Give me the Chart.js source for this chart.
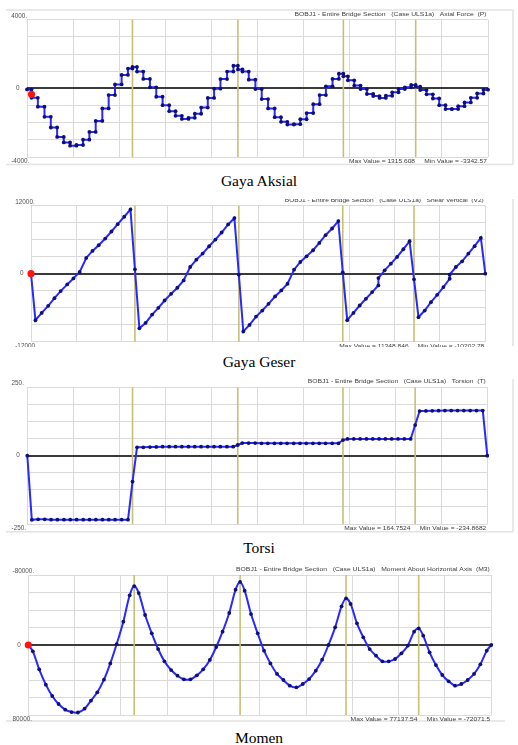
<!DOCTYPE html>
<html><head><meta charset="utf-8">
<script src="https://cdn.jsdelivr.net/npm/chart.js@4.4.1/dist/chart.umd.min.js"></script>
<style>
html,body{margin:0;padding:0;background:#fff;}
body{width:518px;height:745px;position:relative;overflow:hidden;}
.panel{position:absolute;left:0;width:518px;overflow:hidden;}
.panel canvas{position:absolute;left:0;}
.cap{position:absolute;left:0;width:518px;text-align:center;font-family:"Liberation Serif","Times New Roman",serif;font-size:15.5px;line-height:18px;color:#000;}
</style></head><body>
<div class="panel" style="top:0;height:170px"><canvas id="c1" width="518" height="170" style="top:0"></canvas></div>
<div class="cap" style="top:172px">Gaya Aksial</div>
<div class="panel" style="top:198.5px;height:148px"><canvas id="c2" width="518" height="170" style="top:-13.5px"></canvas></div>
<div class="cap" style="top:352.5px">Gaya Geser</div>
<div class="panel" style="top:379px;height:154px"><canvas id="c3" width="518" height="170" style="top:-9px"></canvas></div>
<div class="cap" style="top:539px">Torsi</div>
<div class="panel" style="top:556px;height:170px"><canvas id="c4" width="518" height="170" style="top:0"></canvas></div>
<div class="cap" style="top:728.5px">Momen</div>
<script>
// ---------- DATA ----------
const stations = [0, 1.5, 3.6, 5.8, 7.9, 10.0, 12.2, 14.3, 16.4, 18.6, 20.7, 22.8, 25.0, 27.1, 29.2, 31.4, 33.5, 35,
  36.5, 38.6, 40.8, 42.9, 45.0, 47.2, 49.3, 51.4, 53.6, 55.7, 57.8, 60.0, 62.1, 64.2, 66.4, 68.5, 70,
  71.5, 73.6, 75.8, 77.9, 80.0, 82.2, 84.3, 86.4, 88.6, 90.7, 92.8, 95.0, 97.1, 99.2, 101.4, 103.5, 105,
  106.5, 108.6, 110.7, 112.8, 114.9, 117.0, 119.1, 121.2, 123.3, 125.4, 127.5, 129,
  130.5, 132.6, 134.7, 136.8, 138.9, 141.0, 143.1, 145.2, 147.3, 149.4, 151.5, 153];
const bridgeLength = 153;
const piers = [35, 70, 105, 129];

const axialElements = [
  -60, -550, -1070, -1660, -2280, -2830, -3150, -3342.57, -3300, -2990, -2540, -1900, -1170, -390, 230, 780, 1150,
  1250, 980, 550, 60, -490, -980, -1330, -1600, -1780, -1720, -1480, -1120, -560, -20, 540, 980, 1315.608,
  1100, 975, 507, -40, -624, -1170, -1680, -1950, -2110, -2090, -1800, -1440, -920, -390, 120, 550, 850,
  700, 470, 160, -40, -330, -450, -560, -430, -230, -40, 60, 200,
  100, -100, -350, -590, -980, -1210, -1210, -1040, -820, -550, -300, -80];
const axialMarker = [1.5, -350];

const shearNodes = [
  0, -8215, -6915, -5674, -4314, -3073, -1891, -827, 296, 2778, 4019, 5024, 6206, 7447, 8747, 10047, 11348.846, 768,
  -9633, -8688, -7210, -6028, -4728, -3546, -2482, -1182, 1182, 2482, 3546, 4846, 6028, 7269, 8688, 9811, -177,
  -10202.78, -9042, -7565, -6501, -5319, -4019, -2955, -1773, 709, 2069, 3073, 4137, 5437, 6797, 7979, 9279, 240,
  -8200, -6915, -5615, -4430, -3250, -2070, 590, 1770, 2955, 4315, 5730, -1000,
  -7680, -6500, -5020, -3720, -2360, -890, 1180, 2190, 3550, 4850, 6320, 0];
const shearJumps = [[117.0, -770], [141.0, -180]];
const shearMarker = [0, 0];

const torsionNodes = [
  0, -234.8682, -233, -233, -234, -234, -234, -234, -234, -234, -234, -234, -234, -234, -234, -234, -234, -95,
  30.5, 30.5, 31.5, 32, 33, 33, 33, 33, 33, 33, 33, 33, 33, 33, 33, 33, 39,
  46, 46, 46, 45, 45, 45, 45, 45, 45, 45, 45, 45, 45, 45, 45, 45, 57,
  61, 61, 61, 61, 61, 61, 61, 61, 61, 61, 61, 112,
  163.2, 163.5, 164, 164.4, 164.7524, 164.7, 164.7, 164.7, 164.7, 164.7, 164.7, 0];

const momentNodes = [
  0, 7240, 27800, 45300, 58300, 67400, 73900, 76600, 77137.54, 72800, 63600, 54100, 39600, 21000, -1100, -26700, -56800, -67400,
  -59400, -34300, -13300, 4600, 18700, 28600, 35100, 39200, 39200, 34700, 27800, 17100, 2300, -15200, -36600, -63200, -72071.5,
  -62100, -35400, -13300, 6500, 21000, 33100, 40000, 46500, 48400, 44600, 38900, 29300, 16800, 0, -20200, -44200, -53300,
  -46900, -24800, -8800, 4600, 12200, 18700, 18700, 16000, 9500, 760, -15200, -19000,
  -10700, 8400, 22900, 34300, 41500, 46500, 44600, 40000, 33100, 22100, 6500, 0];
const momentMarker = [0, 0];

const axialTickValues = [4000, 0, -4000];
const axialTickLabels = ['4000.', '0', '-4000.'];
const shearTickValues = [12000, 0, -12000];
const shearTickLabels = ['12000.', '0', '-12000'];
const torsionTickValues = [250, 0, -250];
const torsionTickLabels = ['250.', '0', '-250.'];
const momentTickValues = [-80000, 0, 80000];
const momentTickLabels = ['-80000.', '0', '80000.'];

const titles = [
  'BOBJ1 - Entire Bridge Section   (Case ULS1a)   Axial Force  (P)',
  'BOBJ1 - Entire Bridge Section   (Case ULS1a)   Shear Vertical  (V2)',
  'BOBJ1 - Entire Bridge Section   (Case ULS1a)   Torsion  (T)',
  'BOBJ1 - Entire Bridge Section   (Case ULS1a)   Moment About Horizontal Axis  (M3)'];
const extremes = [
  'Max Value = 1315.608     Min Value = -3342.57',
  'Max Value = 11348.846     Min Value = -10202.78',
  'Max Value = 164.7524     Min Value = -234.8682',
  'Max Value = 77137.54     Min Value = -72071.5'];

// ---------- BUILD SERIES ----------
const axialPts = [];
axialElements.forEach((v, i) => { axialPts.push({x: stations[i], y: v}, {x: stations[i + 1], y: v}); });
const shearPts = [];
stations.forEach((s, i) => {
  shearPts.push({x: s, y: shearNodes[i]});
  shearJumps.filter(j => j[0] === s).forEach(j => shearPts.push({x: s, y: j[1]}));
});
const torsionPts = stations.map((s, i) => ({x: s, y: torsionNodes[i]}));
const momentPts = stations.map((s, i) => ({x: s, y: momentNodes[i]}));

// ---------- DRAW HELPERS ----------
function fitText(ctx, text, right, cy, width, size, color) {
  ctx.save();
  ctx.font = size + 'px "Liberation Sans", Arial, sans-serif';
  const w = ctx.measureText(text).width;
  ctx.translate(right, cy);
  ctx.scale(width / w, 1);
  ctx.textAlign = 'right';
  ctx.textBaseline = 'middle';
  ctx.fillStyle = color;
  ctx.fillText(text, 0, 0);
  ctx.restore();
}

const deco = {
  id: 'deco',
  beforeDraw(chart) {
    const o = chart.options.plugins.deco, ctx = chart.ctx;
    ctx.save();
    ctx.strokeStyle = '#e2e2e2';
    ctx.lineWidth = 1.5;
    (o.frame || []).forEach(f => {
      ctx.beginPath();
      ctx.moveTo(f[0], f[1] - o.top);
      ctx.lineTo(f[2], f[3] - o.top);
      ctx.stroke();
    });
    ctx.restore();
  },
  beforeDatasetsDraw(chart) {
    const ctx = chart.ctx, a = chart.chartArea, xs = chart.scales.x;
    ctx.save();
    ctx.strokeStyle = 'rgb(198,192,118)';
    ctx.lineWidth = 1.6;
    piers.forEach(p => {
      const px = xs.getPixelForValue(p);
      ctx.beginPath(); ctx.moveTo(px, a.top); ctx.lineTo(px, a.bottom); ctx.stroke();
    });
    ctx.restore();
  },
  afterDraw(chart) {
    const o = chart.options.plugins.deco, ctx = chart.ctx, a = chart.chartArea, ys = chart.scales.y;
    ctx.save();
    ctx.font = '6.4px "Liberation Sans", Arial, sans-serif';
    ctx.fillStyle = '#505050';
    ctx.textBaseline = 'middle';
    ctx.textAlign = 'left';
    o.tickValues.forEach((v, i) => {
      let py = ys.getPixelForValue(v);
      let px = a.left - 15.8;
      if (Math.abs(py - a.top) < 1) py -= 3.6;
      else if (Math.abs(py - a.bottom) < 1) py += 4.2;
      else px = a.left - 11;
      ctx.fillText(o.tickLabels[i], px, py);
    });
    ctx.restore();
    fitText(ctx, o.title, a.right - 1.5, a.top - 5.5, o.titleW, 6, '#3c3c3c');
    fitText(ctx, o.extreme, a.right - 1, a.bottom + 4.3, o.extremeW, 6, '#3c3c3c');
  }
};

function build(id, p) {
  const datasets = [{
    data: p.points, borderColor: 'rgb(40,40,255)', borderWidth: 2,
    pointRadius: 1.9, pointHoverRadius: 1.9, pointBackgroundColor: 'rgb(15,15,120)', pointBorderWidth: 0,
    tension: p.tension || 0, clip: false, order: 2
  }];
  if (p.marker) datasets.push({
    data: [{x: p.marker[0], y: p.marker[1]}], showLine: false,
    pointRadius: 3.6, pointBackgroundColor: 'rgb(255,20,20)', pointBorderWidth: 0, clip: false, order: 1
  });
  return new Chart(document.getElementById(id), {
    type: 'line',
    data: {datasets},
    options: {
      responsive: false, animation: false, devicePixelRatio: 1,
      layout: {autoPadding: false, padding: {left: p.area[0], right: 518 - p.area[1], top: p.area[2] - p.top, bottom: 170 - (p.area[3] - p.top)}},
      plugins: {
        legend: {display: false}, tooltip: {enabled: false},
        deco: {top: p.top, frame: p.frame, tickValues: p.tickValues, tickLabels: p.tickLabels,
               title: p.title, titleW: p.titleW, extreme: p.extreme, extremeW: p.extremeW}
      },
      scales: {
        x: {
          type: 'linear', min: 0, max: bridgeLength,
          ticks: {display: false},
          afterBuildTicks: s => { const t = []; for (let i = 0; i <= 10; i++) t.push({value: bridgeLength * i / 10}); s.ticks = t; },
          grid: {color: '#dadada', lineWidth: 1, drawTicks: false},
          border: {display: false}
        },
        y: {
          type: 'linear', min: p.min, max: p.max, reverse: !!p.reverse,
          ticks: {display: false, stepSize: p.step},
          grid: {color: c => c.tick.value === 0 ? '#3a3a3a' : '#dadada', lineWidth: c => c.tick.value === 0 ? 2 : 1, drawTicks: false, z: 0},
          border: {display: false}
        }
      }
    },
    plugins: [deco]
  });
}

build('c1', {points: axialPts, marker: axialMarker, top: 0, area: [27, 488, 19.7, 157],
  min: -4000, max: 4000, step: 1000, tickValues: axialTickValues, tickLabels: axialTickLabels,
  title: titles[0], titleW: 192, extreme: extremes[0], extremeW: 138,
  frame: [[6, 10, 513, 10], [6, 164.5, 513, 164.5], [513, 10, 513, 164.5]]});
build('c2', {points: shearPts, marker: shearMarker, top: 185, area: [31, 485.3, 205.7, 341.7],
  min: -12000, max: 12000, step: 3000, tickValues: shearTickValues, tickLabels: shearTickLabels,
  title: titles[1], titleW: 199, extreme: extremes[1], extremeW: 145,
  frame: [[513, 185, 513, 346]]});
build('c3', {points: torsionPts, top: 370, area: [27.3, 487.3, 387.3, 524],
  min: -250, max: 250, step: 62.5, tickValues: torsionTickValues, tickLabels: torsionTickLabels,
  title: titles[2], titleW: 178, extreme: extremes[2], extremeW: 142,
  frame: [[6, 531.7, 513, 531.7], [513, 370, 513, 531.7]]});
build('c4', {points: momentPts, marker: momentMarker, top: 556, area: [28.3, 491.3, 575, 715], tension: 0.3,
  min: -80000, max: 80000, step: 20000, reverse: true, tickValues: momentTickValues, tickLabels: momentTickLabels,
  title: titles[3], titleW: 253.7, extreme: extremes[3], extremeW: 139.7,
  frame: [[6, 721, 505, 721]]});
</script>
</body></html>
